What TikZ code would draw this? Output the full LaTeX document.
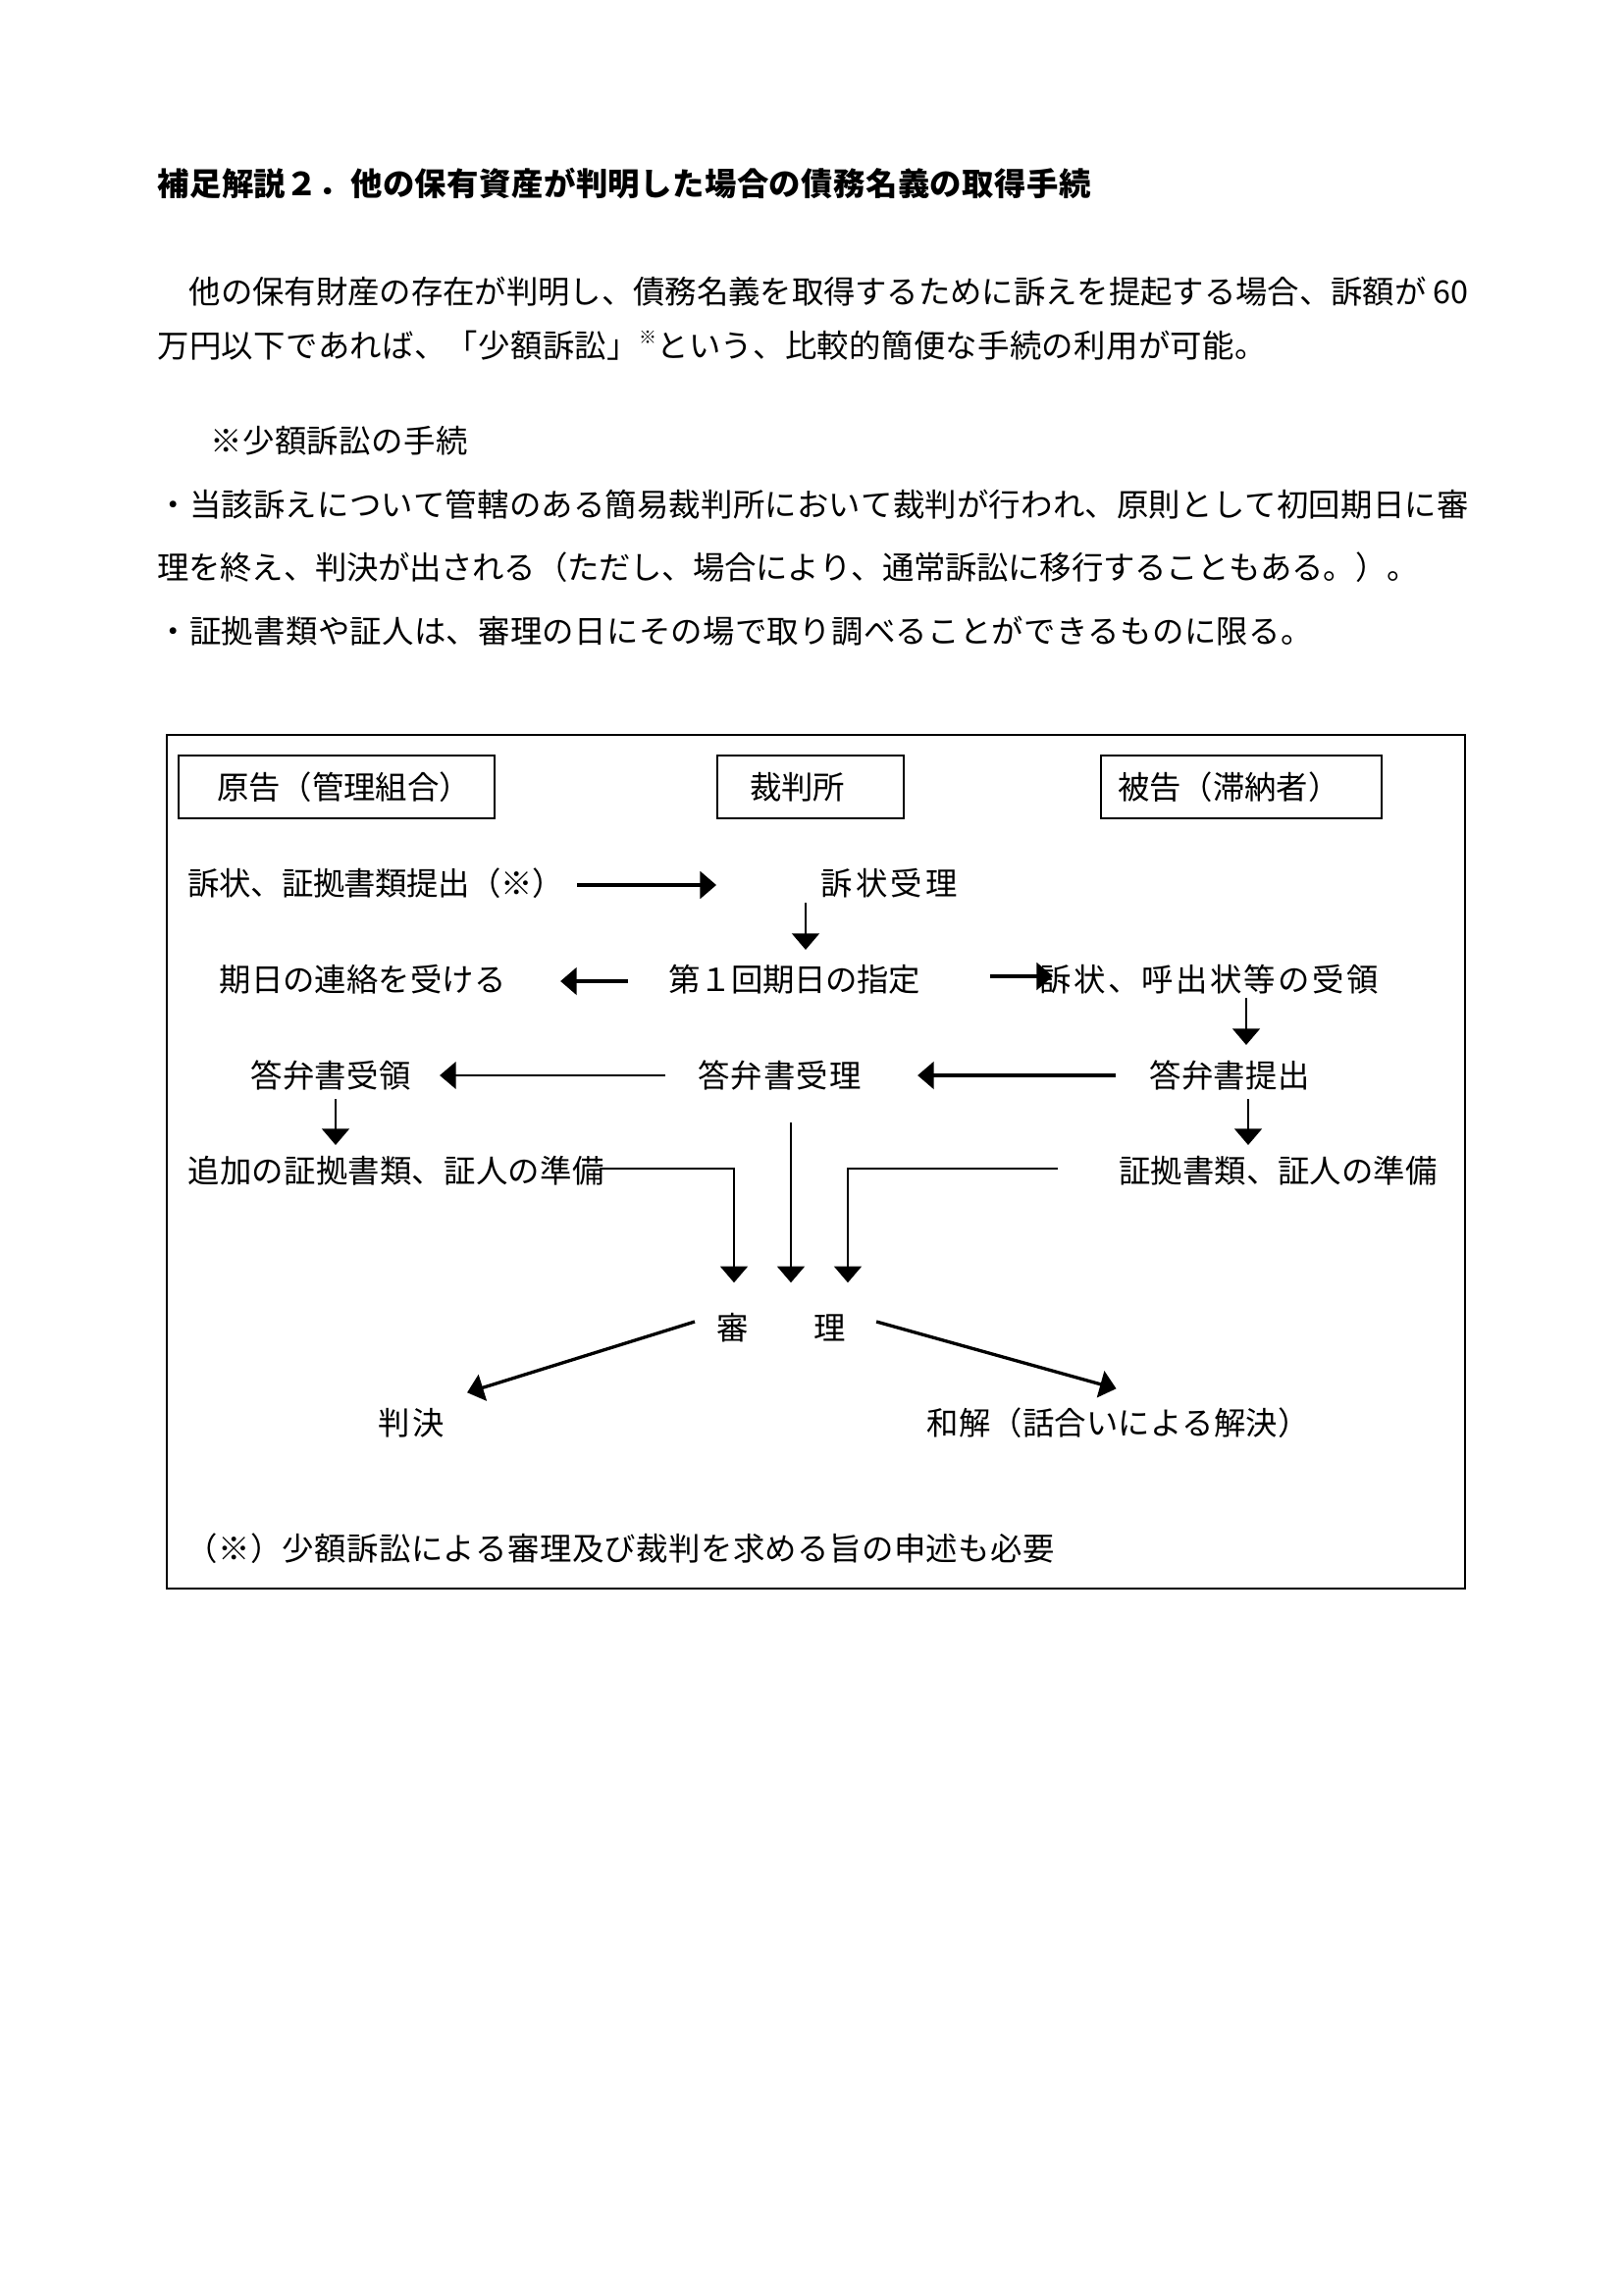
\documentclass[tikz,border=0pt]{standalone}
\usepackage{fontspec}
\setmainfont{Noto Sans CJK JP}
\usetikzlibrary{arrows.meta,calc}
\newdimen\pxu \pxu=0.127mm
\makeatletter
\def\distA#1{#1\distB}
\def\distEndMark{\distEnd}
\def\distB#1{\def\dist@tmp{#1}\ifx\dist@tmp\distEndMark\else\hskip 0pt plus 1fil minus 1pt\relax#1\expandafter\distB\fi}
\newcommand\dist[2]{\makebox[#1\pxu][s]{\distA#2\distEnd}}
\makeatother
\begin{document}
\begin{tikzpicture}[x=0.127mm, y=-0.127mm,
  every node/.style={font=\fontsize{11.7pt}{14pt}\selectfont},
  txt/.style={anchor=west, inner sep=0pt, text height=28.5\pxu, text depth=3.9\pxu},
  hbox/.style={draw, line width=0.75pt, anchor=north west, inner sep=0pt, minimum height=64\pxu, text height=28.5\pxu, text depth=3.9\pxu},
  arr/.style={line width=0.9pt, -{Triangle[length=6pt,width=10pt]}},
  tarr/.style={line width=1.2pt, -{Triangle[length=6pt,width=10pt]}}]
\useasboundingbox (0,0) rectangle (1654,2339);

% body text
\node[txt] (title) at (160,187) {\bfseries\dist{951}{補足解説２．他の保有資産が判明した場合の債務名義の取得手続}};
\node[txt] (p1) at (160,297) {\dist{1336}{　他の保有財産の存在が判明し、債務名義を取得するために訴えを提起する場合、訴額が{ 60}}};
\node[txt] (p2) at (160,352) {\dist{1130}{万円以下であれば、「少額訴訟」{\raisebox{0.42em}{\fontsize{6.5pt}{7pt}\selectfont ※}}という、比較的簡便な手続の利用が可能。}};
\node[txt] (n1) at (214,449) {\dist{262}{※少額訴訟の手続}};
\node[txt] (b1) at (160,514) {\dist{1336}{・当該訴えについて管轄のある簡易裁判所において裁判が行われ、原則として初回期日に審}};
\node[txt] (b2) at (160,578) {\dist{1285}{理を終え、判決が出される（ただし、場合により、通常訴訟に移行することもある。）。}};
\node[txt] (b3) at (160,643) {\dist{1177}{・証拠書類や証人は、審理の日にその場で取り調べることができるものに限る。}};

% frame
\draw[line width=0.9pt] (170,749) rectangle (1493,1619);

% header boxes
\node[hbox, minimum width=322\pxu] (h1) at (181,769) {\makebox[322\pxu][l]{\hspace{39\pxu}原告（管理組合）}};
\node[hbox, minimum width=190\pxu] (h2) at (730,769) {\makebox[190\pxu][l]{\hspace{33\pxu}裁判所}};
\node[hbox, minimum width=286\pxu] (h3) at (1121,769) {\makebox[286\pxu][l]{\hspace{17\pxu}被告（滞納者）}};

% row 1
\node[txt] (s1) at (191,900) {\dist{383}{訴状、証拠書類提出（※）}};
\node[txt] (s2) at (836,900) {\dist{139}{訴状受理}};
% row 2
\node[txt] (k0) at (223,998) {\dist{292}{期日の連絡を受ける}};
\node[txt] (k1) at (681,998) {\dist{256}{第１回期日の指定}};
\node[txt] (k2) at (1059,998) {\dist{345}{訴状、呼出状等の受領}};
% row 3
\node[txt] (r0) at (255,1096) {\dist{163}{答弁書受領}};
\node[txt] (r1) at (711,1096) {\dist{166}{答弁書受理}};
\node[txt] (r2) at (1171,1096) {\dist{163}{答弁書提出}};
% row 4
\node[txt] (q0) at (191,1193) {\dist{424}{追加の証拠書類、証人の準備}};
\node[txt] (q2) at (1140,1193) {\dist{324}{証拠書類、証人の準備}};
% hearing
\node[txt] (sr) at (730,1353) {\dist{131}{審　　理}};
\node[txt] (j0) at (385,1450) {\dist{67}{判決}};
\node[txt] (w0) at (944,1450) {\dist{390}{和解（話合いによる解決）}};
% footnote
\node[txt] (f0) at (189,1578) {\dist{885}{（※）少額訴訟による審理及び裁判を求める旨の申述も必要}};

% connectors
\draw[tarr] ($(s1.east)+(13,2)$) -- ($(s2.west)+(-106,2)$);
\draw[arr] ($(s2.west)+(-15,20)$) -- ++(0,48);
\draw[tarr] ($(k1.west)+(-41,2)$) -- ($(k0.east)+(55,2)$);
\draw[tarr] ($(k1.east)+(71,-3)$) -- ($(k2.west)+(14,-3)$);
\draw[arr] ($(k2.west)+(211,19)$) -- ++(0,48);
\draw[arr] ($(r1.west)+(-33,0)$) -- ($(r0.east)+(29,0)$);
\draw[tarr] ($(r2.west)+(-34,0)$) -- ($(r1.east)+(57,0)$);
\draw[arr] ($(r0.west)+(87,24)$) -- ++(0,47);
\draw[arr] ($(r2.west)+(101,24)$) -- ++(0,47);
\draw[arr] ($(q0.east)+(-5,-2)$) -| ($(sr.north west)+(18,-29)$);
\draw[arr] ($(r1.south west)+(95,31)$) -- ($(sr.north west)+(76,-29)$);
\draw[arr] ($(q2.west)+(-62,-2)$) -| ($(sr.north west)+(134,-29)$);
\draw[tarr] ($(sr.west)+(-22,-6)$) -- ($(j0.north)+(57,-14)$);
\draw[tarr] ($(sr.east)+(31,-6)$) -- ($(w0.north)+(-2,-18)$);
\end{tikzpicture}
\end{document}
